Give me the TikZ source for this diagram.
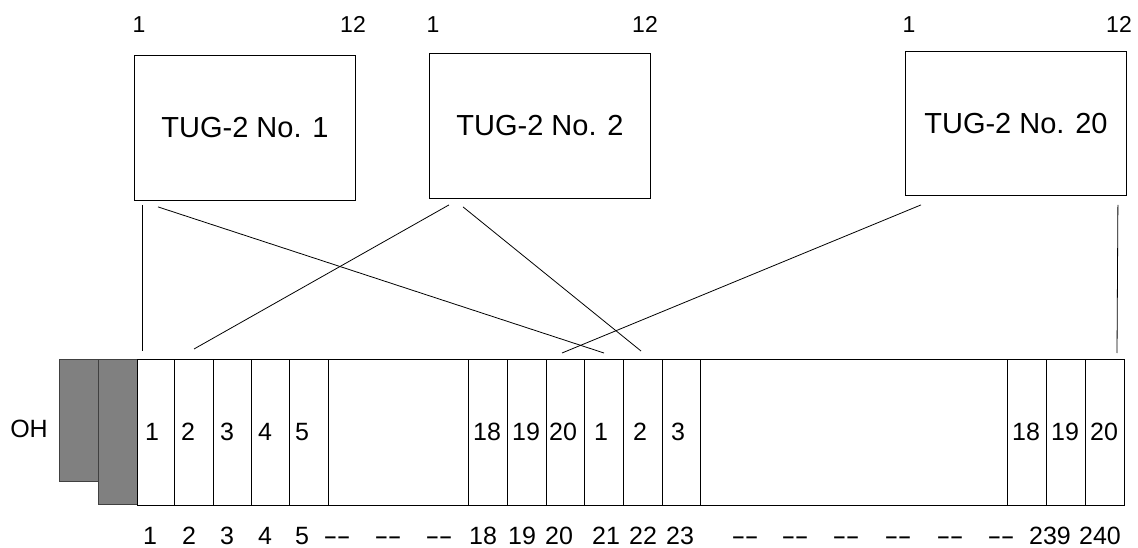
\documentclass[tikz,border=0pt]{standalone}
\usepackage{fontspec}
\usepackage{graphicx}
\setmainfont{Liberation Sans}
\usetikzlibrary{calc}
\definecolor{ohfill}{HTML}{808080}
\definecolor{ohdraw}{HTML}{404040}
\newcommand{\longhy}{\scalebox{1.7}[1]{-}}
\begin{document}
\begin{tikzpicture}[x=1pt,y=-1pt,
  tug/.style={draw, line width=0.9pt, minimum width=221pt, minimum height=145pt, inner sep=0pt, anchor=north west, font=\fontsize{29}{33}\selectfont},
  toplbl/.style={inner sep=0pt, anchor=base, font=\fontsize{23}{28}\selectfont},
  num/.style={inner sep=0pt, anchor=base, font=\fontsize{25}{30}\selectfont},
  cellbox/.style={draw, line width=0.9pt, inner sep=0pt, minimum height=146pt, anchor=north west},
  ohbox/.style={draw=ohdraw, fill=ohfill, line width=0.9pt, inner sep=0pt, anchor=north west, minimum width=39pt},
  conn/.style={line width=0.8pt}]
\useasboundingbox (0,0) rectangle (1138,548);

% TUG-2 boxes
\node[tug] (box1) at (134,55) {TUG-2 No. 1};
\node[tug] (box2) at (429,53) {TUG-2 No. 2};
\node[tug, minimum height=144pt] (box3) at (905,51) {TUG-2 No. 20};

% top labels
\node[toplbl] (t1a) at (139,33) {1};
\node[toplbl] (t1b) at (353,33) {12};
\node[toplbl] (t2a) at (433,33) {1};
\node[toplbl] (t2b) at (645,33) {12};
\node[toplbl] (t3a) at (909,33) {1};
\node[toplbl] (t3b) at (1119,33) {12};

% overhead
\node[ohbox, minimum height=122pt] (oh1) at (59,359) {};
\node[ohbox, minimum height=145pt] (oh2) at (98,359) {};
\node[num] (ohl) at (29,437) {OH};

% frame strip
\node[cellbox, minimum width=987pt] (strip) at (137,359) {};

% cells
\foreach \n/\l/\w in {c1/137/37, c2/174/39, c3/213/38, c4/251/38, c5/289/39,
  c18/468/39, c19/507/39, c20/546/38, c21/584/39, c22/623/39, c23/662/38,
  c238/1007/39, c239/1046/39, c240/1085/39}
  \node[cellbox, minimum width=\w pt] (\n) at (\l,359) {};

% cell labels
\foreach \x/\t [count=\i] in {152/1, 188/2, 227/3, 265/4, 302/5,
  487/18, 526/19, 563/20, 601/1, 640/2, 678/3,
  1026/18, 1065/19, 1104/20}
  \node[num] (cl\i) at (\x,440) {\t};

% bottom numbers
\foreach \x/\t [count=\i] in {150/1, 189/2, 227/3, 265/4, 302/5,
  483/18, 522/19, 559/20, 606/21, 643/22, 680/23,
  1050/239, 1100/240}
  \node[num] (bn\i) at (\x,544) {\t};
\foreach \x [count=\i] in {337, 388, 439, 745, 795, 846, 898, 950, 1001}
  \node[num] (bd\i) at (\x,544) {\longhy\kern-1pt\longhy};

% connector end points
\coordinate (s1) at ($(box1.south west)+(8,4)$);
\coordinate (s2) at ($(box1.south west)+(24,6)$);
\coordinate (s3) at ($(box2.south west)+(20,6)$);
\coordinate (s4) at ($(box2.south west)+(34,8)$);
\coordinate (s5) at ($(box3.south west)+(16,9)$);
\coordinate (s6) at ($(box3.south east)+(-9,9)$);
\coordinate (e1) at ($(c1.north west)+(5,-8)$);
\coordinate (e2) at ($(c21.north west)+(20,-6)$);
\coordinate (e3) at ($(c2.north west)+(20,-10)$);
\coordinate (e4) at ($(c22.north west)+(18,-8)$);
\coordinate (e5) at ($(c20.north west)+(16,-6)$);
\coordinate (e6) at ($(c240.north west)+(32,-6)$);

\draw[conn] (s1) -- (e1);
\draw[conn] (s2) -- (e2);
\draw[conn] (s3) -- (e3);
\draw[conn] (s4) -- (e4);
\draw[conn] (s5) -- (e5);
\draw[conn] (s6) -- (e6);
\end{tikzpicture}
\end{document}
